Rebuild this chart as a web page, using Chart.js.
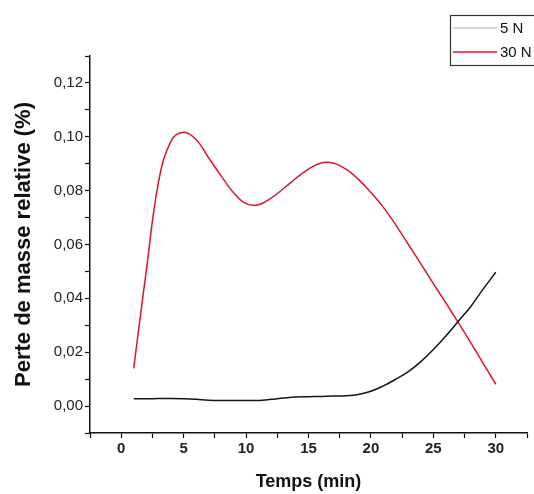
<!DOCTYPE html>
<html>
<head>
<meta charset="utf-8">
<script src="https://cdn.jsdelivr.net/npm/chart.js@4/dist/chart.umd.min.js"></script>
<style>
  html, body { margin: 0; padding: 0; background: #fff; }
  canvas { display: block; }
</style>
</head>
<body>
<canvas id="c" width="534" height="494"></canvas>
<script>
// ---- Data ----
const seriesLabels = ['5 N', '30 N'];
const timeMin = [1, 2, 3, 4, 5, 6, 7, 8, 9, 10, 11, 12, 13, 14, 15, 16, 17, 18, 19, 20, 21, 22, 23, 24, 25, 26, 27, 28, 29, 30];
const loss5N = [0.0027, 0.0027, 0.0028, 0.0028, 0.0027, 0.0025, 0.0022, 0.0021, 0.0021, 0.0021,
                0.0021, 0.0025, 0.0030, 0.0034, 0.0035, 0.0036, 0.0037, 0.0038, 0.0043, 0.0055,
                0.0075, 0.0100, 0.0128, 0.0165, 0.0210, 0.0260, 0.0315, 0.0370, 0.0435, 0.0497];
const loss30N = [0.0140, 0.0500, 0.0835, 0.0985, 0.1017, 0.0990, 0.0922, 0.0855, 0.0792, 0.0752,
                 0.0748, 0.0772, 0.0808, 0.0846, 0.0880, 0.0903, 0.0902, 0.0880, 0.0842, 0.0793,
                 0.0738, 0.0672, 0.0600, 0.0528, 0.0455, 0.0383, 0.0310, 0.0235, 0.0158, 0.0081];
const xTickValues = [0, 5, 10, 15, 20, 25, 30];
const yTickValues = [0.00, 0.02, 0.04, 0.06, 0.08, 0.10, 0.12];
const xTitle = 'Temps (min)';
const yTitle = 'Perte de masse relative (%)';

// ---- Styles ----
const lineColors = ['#141414', '#d8172e'];
const legendSampleColors = ['#c4c4c4', '#d8172e'];

const toPoints = (xs, ys) => xs.map((x, i) => ({ x: x, y: ys[i] }));

const legendPlugin = {
  id: 'boxLegend',
  afterDraw(chart) {
    const ctx = chart.ctx;
    ctx.save();
    ctx.strokeStyle = '#333';
    ctx.lineWidth = 1.2;
    ctx.strokeRect(450.5, 15.5, 120, 50);
    ctx.font = '15px "Liberation Sans", Arial, sans-serif';
    ctx.textBaseline = 'middle';
    ctx.fillStyle = '#111';
    const ys = [28, 52];
    chart.data.datasets.forEach((ds, i) => {
      ctx.strokeStyle = legendSampleColors[i];
      ctx.lineWidth = 1.6;
      ctx.beginPath();
      ctx.moveTo(453, ys[i]);
      ctx.lineTo(497, ys[i]);
      ctx.stroke();
      ctx.fillText(ds.label, 500, ys[i] + 1);
    });
    ctx.restore();
  }
};

const fmtComma = v => v.toFixed(2).replace('.', ',');

new Chart(document.getElementById('c'), {
  type: 'line',
  data: {
    datasets: [
      {
        label: seriesLabels[0],
        data: toPoints(timeMin, loss5N),
        borderColor: lineColors[0],
        borderWidth: 1.5,
        pointRadius: 0,
        fill: false,
        tension: 0.4
      },
      {
        label: seriesLabels[1],
        data: toPoints(timeMin, loss30N),
        borderColor: lineColors[1],
        borderWidth: 1.5,
        pointRadius: 0,
        fill: false,
        tension: 0.4
      }
    ]
  },
  options: {
    responsive: false,
    animation: false,
    devicePixelRatio: 1,
    layout: { padding: { top: 56, right: 7, left: 0, bottom: 0 } },
    plugins: {
      legend: { display: false },
      tooltip: { enabled: false }
    },
    scales: {
      x: {
        type: 'linear',
        min: -2.5,
        max: 32.5,
        afterFit(scale) { scale.height = 61; },
        border: { display: true, color: '#111', width: 1.5 },
        grid: { display: true, drawOnChartArea: false, drawTicks: true, tickLength: 5, tickColor: '#111', tickWidth: 1.2 },
        ticks: {
          stepSize: 2.5,
          autoSkip: false,
          maxRotation: 0,
          padding: 2,
          color: '#222',
          font: { family: '"Liberation Sans", Arial, sans-serif', size: 15, weight: 'bold' },
          callback: v => (xTickValues.includes(v) ? String(v) : '')
        },
        title: {
          display: true,
          text: xTitle,
          color: '#111',
          padding: { top: 0, bottom: 1 },
          font: { family: '"Liberation Sans", Arial, sans-serif', size: 18, weight: 'bold' }
        }
      },
      y: {
        type: 'linear',
        min: -0.01,
        max: 0.13,
        afterFit(scale) { scale.width = 90; },
        border: { display: true, color: '#111', width: 1.5 },
        grid: { display: true, drawOnChartArea: false, drawTicks: true, tickLength: 5, tickColor: '#111', tickWidth: 1.2 },
        ticks: {
          stepSize: 0.01,
          autoSkip: false,
          padding: 2,
          color: '#222',
          font: { family: '"Liberation Sans", Arial, sans-serif', size: 15 },
          callback: v => {
            const hit = yTickValues.find(t => Math.abs(t - v) < 1e-6);
            return hit === undefined ? '' : fmtComma(hit);
          }
        },
        title: {
          display: true,
          text: yTitle,
          color: '#111',
          padding: { top: 11, bottom: 0 },
          font: { family: '"Liberation Sans", Arial, sans-serif', size: 22, weight: 'bold' }
        }
      }
    }
  },
  plugins: [legendPlugin]
});
</script>
</body>
</html>
